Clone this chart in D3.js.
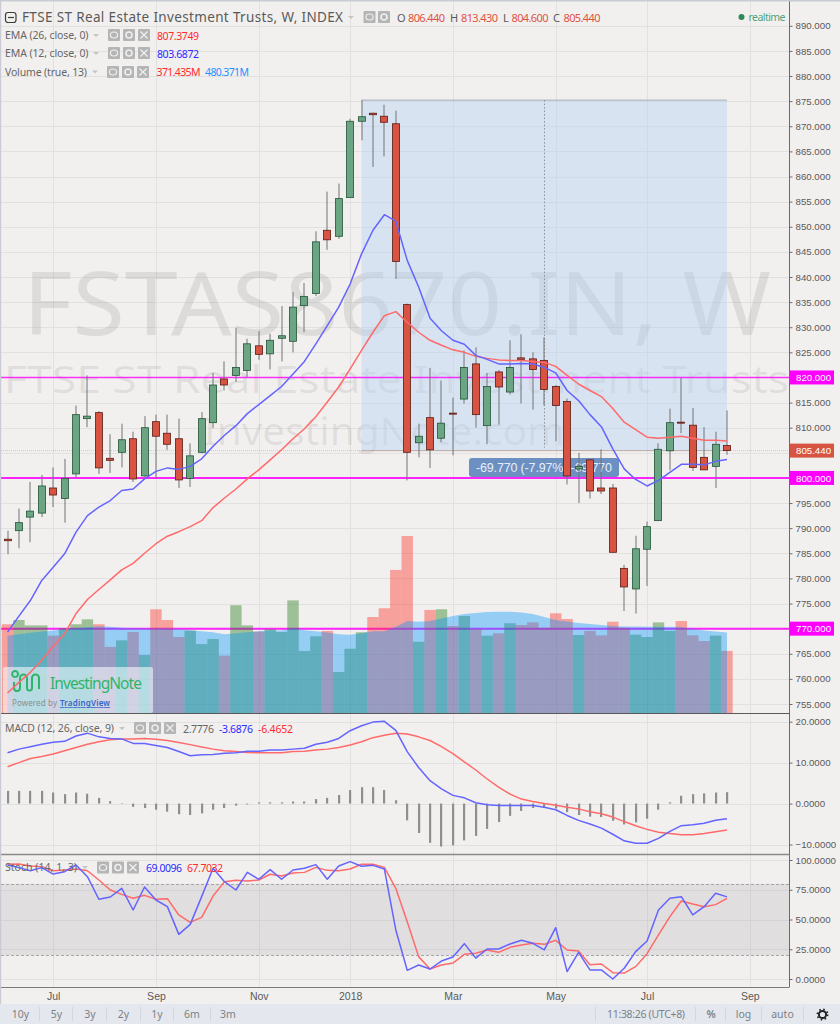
<!DOCTYPE html>
<html><head><meta charset="utf-8">
<script src="https://cdn.jsdelivr.net/npm/d3@7/dist/d3.min.js"></script>
<style>html,body{margin:0;padding:0;background:#f2f0ef;overflow:hidden}svg{display:block}text{font-family:"Noto Sans",sans-serif}</style>
</head><body><svg id="c" width="840" height="1024"></svg>
<script>
const opens=[787.8,789.5,792.2,793,798,795.9,800.8,811.8,813,803.9,805.1,807.8,800.4,811.2,808.9,807.8,799.9,805.1,811,819.7,820.4,821.4,826.3,824.7,827.8,827.2,834.3,836.7,849.3,848.1,855.8,871,872.6,872,870.5,834.5,807,812,807.9,812.9,815.7,822.7,810.4,821.1,817.1,823.9,823.7,823.4,818.2,815.2,801.8,803.6,798,798,782,777.9,785.8,791.5,805.4,811.1,810.5,804.1,802.3,806.44];
const highs=[789.5,793.9,799.2,800.6,802.1,803.8,814.4,820.4,813.3,808.7,810.8,809.2,812.3,812.6,812.6,811.8,806.9,813.1,820.9,823.2,829.9,827.7,829.2,828.7,834.2,837,838.8,849.1,857,858.6,871.5,875.2,872.7,874.3,873.1,834.7,810.8,821.9,819.4,816,825.4,826,820.9,821.5,827.4,828.6,825,828,818.5,815.8,805,803.7,805.7,798.8,782.7,788.5,791.3,806.9,813.8,819.9,813.9,810.1,809.2,813.43];
const lows=[784.8,786,787.2,792.2,794.2,791.1,800,810.1,800.8,801,802.1,799.2,800.2,800,805.6,798,798.2,804.9,809.9,817.4,819.1,820.1,823.5,821.6,823.2,825,829,836.2,845.4,847.6,855.8,867.2,861.9,864,839.6,799.5,804.1,802,807.1,804.5,814.8,810,806.7,810.6,816.6,814.8,813.6,814.4,807.3,798.7,795,795.9,796.8,785.1,773.5,773,778.5,791.4,801.5,808.9,801.4,801.6,798,804.6];
const closes=[787.5,791.1,793.4,798.4,796.6,799.9,812.6,812.3,802,803.5,807.6,799.8,810,808.3,806.7,799.6,804.4,811.8,818.5,818.5,822,826.7,824.6,827.4,828.3,834,836.1,847,847.4,855.6,871,871.9,872.3,870.8,843.1,805.1,808.3,805.6,810.9,812.7,822,812.6,818.2,818.1,822,823.6,821.6,817.6,814.4,800.4,802.3,797.4,797.4,785.2,778.3,785.9,790.3,805.7,811,810.9,802.1,801.6,806.7,805.44];
const ema26=[757.2,759.3,761.3,763.7,766.5,769,773,775.8,777.8,779.7,781.7,783,785,786.9,788.4,789.3,790.3,791.5,794.1,796,797.8,799.8,801.6,803.6,805.6,807.8,809.8,812.2,815.1,818.1,821.7,825.4,829,832.3,833.1,831,829,827.4,826.4,825.5,825,824.2,823.8,823.5,823.4,823.4,823.2,823,822.2,820.4,818.7,817.4,816.2,813.8,811.1,809.6,808.1,807.9,808.1,808.3,807.9,807.5,807.5,807.37];
const ema12=[769.3,772.5,775.6,779.6,782.2,784.9,789.2,792.5,794.2,795.5,797.5,797.8,799.8,801.3,802,801.7,802.3,803.8,806.3,808.5,810.4,812.8,814.6,816.4,818.2,820.7,823.2,826.7,830.3,834,838.6,844.6,849.3,852.4,851.1,843.3,838,831.8,829.3,827.4,826.6,824.4,823.6,822.7,822.7,822.8,822.7,822,820.9,817.4,815.4,812.6,810.2,805.8,801.8,799.7,798.4,799.5,801.1,802.7,802.7,802.6,803.3,803.69];
const volumes=[530,555,523,523,462,506,530,559,530,395,434,484,347,619,555,454,492,412,442,343,643,523,486,500,484,672,371,458,490,246,384,482,573,625,853,1055,426,615,619,519,579,500,462,476,536,525,541,509,595,561,466,490,464,545,509,468,454,541,490,549,464,430,462,371.4];
const volumeMA=[462,470,480,487,492,500,506,512,518,515,509,506,503,506,506,500,494,488,482,470,476,482,488,494,492,506,494,488,481,470,468,476,488,488,515,549,545,549,564,579,591,597,603,604,604,600,591,573,555,546,537,531,525,519,517,516,515,515,515,513,502,493,487,480.4];
const macdHist=[3.1,3.1,3.1,3.1,2.7,2.3,2.7,2.4,1.4,0.6,0.1,-0.8,-1.1,-1.5,-2,-2.6,-2.8,-2.4,-1.5,-1.1,-0.5,-0.2,0.3,0.3,0.3,0.5,0.5,1.1,1.4,2.1,3.3,4,4,3.3,0.8,-4.1,-7.2,-9.6,-10.5,-10.2,-9,-7.9,-6.2,-4.5,-3,-1.8,-1.1,-1.1,-1.2,-2.1,-2.8,-3.2,-3.3,-4.2,-5.1,-4.6,-3.7,-1.5,0.3,1.9,2.3,2.5,2.7,2.78];
const macdLine=[12.4,13.3,13.9,14.5,15,15.2,16.5,17.2,16.3,15.9,15.8,14.7,14.7,14.2,13.7,12.7,11.7,11.9,12,12.3,12.4,12.8,12.8,13.1,13.1,13.3,13.5,14.5,15,15.9,17.8,19,19.9,20.1,17.9,12.7,8.8,5.6,3.6,2,1.4,0.2,-0.3,-0.5,-0.5,-0.5,-0.5,-0.9,-1.5,-2.9,-4.1,-5,-6,-7.5,-9.1,-9.7,-9.7,-8.5,-6.8,-5.4,-5.2,-4.8,-4.1,-3.69];
const macdSignal=[9,10,11,11.5,12.1,12.9,13.7,14.5,15.1,15.6,15.8,15.8,15.9,15.7,15.4,14.9,14.4,13.8,13.3,12.9,12.7,12.5,12.4,12.4,12.4,12.7,12.8,13.1,13.3,13.7,14.3,15.1,16.1,16.7,17.2,17,16.3,15.4,13.9,12.2,10.2,8.2,6,4,2.3,1.1,0.5,0,-0.4,-0.9,-1.3,-2,-2.5,-3.3,-4.4,-5.4,-6.3,-7,-7.3,-7.6,-7.6,-7.3,-6.9,-6.47];
const stochK=[95.8,93.6,91,93.6,88.2,90.2,95.8,86,67,68.9,76.2,58,77.3,66.4,60.8,37.5,45.9,69.2,93,81.8,74.8,89.6,83.8,91.9,83.8,91.6,93,96.1,83.8,95,98.6,94.7,95.5,92.4,41.2,7.3,11.8,8.4,15.1,18.5,29.7,17.6,25.2,25.2,29.4,32.5,30,24.4,43.1,6.2,22.4,7.6,7.6,0,9,23,31.9,58,67.8,69.2,53.8,60.8,72,69.01];
const stochD=[96.4,96.6,95,94.4,91,91.6,92.4,91,83.2,74.8,71.1,67.8,70.3,67,67.5,53.8,47.6,51.8,69.7,81.8,82.9,82.4,83.2,88,86.6,89,89.6,93.8,91.3,91,92.4,96.4,96.4,93.8,76.2,48.2,18.8,8.4,11.8,13.4,20.7,21.6,24.4,22.4,26.6,28.6,30,29.1,32.5,24.4,23.5,12,12.6,5.3,5,10.4,21.3,37,52.4,65.5,63,60.8,62.5,67.7];
const priceTicks=[890,885,880,875,870,865,860,855,850,845,840,835,830,825,820,815,810,805,800,795,790,785,780,775,770,765,760,755];
const macdTicks=[20,10,0,-10];
const stochTicks=[100,75,50,25,0];
const timeTickIndex=[4,13,22,30,39,48,56,65];
const timeTickLabels=["Jul","Sep","Nov","2018","Mar","May","Jul","Sep"];
const priceLevels=[820,800,770];
const lastClose=805.44, measureHigh=875.21;
const measureStart=31, measureEnd=63, measureMid=47;
const rangeLabels=["10y","5y","3y","2y","1y","6m","3m"];

const svg=d3.select("#c");
const W=840,H=1024,axisX=789.5;
const BG="#f2f0ef",GRID="#e2e1e1",UP="#6ba583",DOWN="#d75442",UPB="#225437",DOWNB="#5b1a13",WICK="#737375";
const LB="#6464ff",LR="#ff6a6a",AXT="#5a5a5a";
const x=d3.scaleLinear().domain([0,63]).range([7.5,727]);
const yP=d3.scaleLinear().domain([890,755]).range([25.8,704]);
const yV=d3.scaleLinear().domain([0,1055]).range([713.3,536.0]);
const yM=d3.scaleLinear().domain([20,-10]).range([721.7,844.5]);
const yS=d3.scaleLinear().domain([100,0]).range([860,979]);
const step=x(1)-x(0);
const px=v=>Math.round(v)+.5;

svg.append("rect").attr("width",W).attr("height",H).attr("fill",BG);
const defs=svg.append("defs");
defs.append("clipPath").attr("id","plot").append("rect").attr("x",1).attr("y",1).attr("width",axisX-1).attr("height",712.3);
defs.append("clipPath").attr("id","plotM").append("rect").attr("x",1).attr("y",714).attr("width",axisX-1).attr("height",140);
const root=svg.append("g");

// grid
const grid=root.append("g").attr("stroke",GRID).attr("stroke-width",1);
timeTickIndex.forEach(i=>grid.append("line").attr("x1",px(x(i))).attr("x2",px(x(i))).attr("y1",1).attr("y2",987));
priceTicks.forEach(v=>grid.append("line").attr("x1",1).attr("x2",axisX).attr("y1",px(yP(v))).attr("y2",px(yP(v))));
macdTicks.forEach(v=>grid.append("line").attr("x1",1).attr("x2",axisX).attr("y1",px(yM(v))).attr("y2",px(yM(v))));
stochTicks.forEach(v=>grid.append("line").attr("x1",1).attr("x2",axisX).attr("y1",px(yS(v))).attr("y2",px(yS(v))));

// watermark
const wm=root.append("g").attr("clip-path","url(#plot)").attr("fill","#646464").style("font-family",'"Liberation Sans",sans-serif');
wm.append("text").attr("x",23).attr("y",335).attr("font-size",88).attr("fill-opacity",.15).attr("textLength",748).attr("lengthAdjust","spacingAndGlyphs").text("FSTAS8670.IN, W");
wm.append("text").attr("x",4).attr("y",393).attr("font-size",39).attr("fill-opacity",.12).attr("textLength",785).attr("lengthAdjust","spacingAndGlyphs").text("FTSE ST Real Estate Investment Trusts");
wm.append("text").attr("x",203).attr("y",445).attr("font-size",39).attr("fill-opacity",.12).attr("textLength",362).attr("lengthAdjust","spacingAndGlyphs").text("InvestingNote.com");

// measure box
const bx=x(measureStart),bw=x(measureEnd)-x(measureStart),bt=yP(measureHigh),bb=yP(lastClose);
root.append("rect").attr("x",bx).attr("y",bt).attr("width",bw).attr("height",bb-bt).attr("fill","#b5d2f5").attr("fill-opacity",.42);
root.append("line").attr("x1",bx).attr("x2",bx+bw).attr("y1",bt).attr("y2",bt).attr("stroke","#a9adb3");
root.append("line").attr("x1",bx).attr("x2",bx+bw).attr("y1",bb).attr("y2",bb).attr("stroke","#b9a9a6");
root.append("line").attr("x1",px(x(measureMid))).attr("x2",px(x(measureMid))).attr("y1",bt).attr("y2",bb-3).attr("stroke","#8a8f98").attr("stroke-dasharray","1.5,2");
root.append("rect").attr("x",469).attr("y",458).attr("width",150).attr("height",19).attr("rx",3).attr("fill","#6c90c2");
root.append("text").attr("x",476).attr("y",472).attr("font-size",12.5).attr("fill","#e8eef7").attr("textLength",136).style("font-family",'"Liberation Sans",sans-serif').text("-69.770 (-7.97%) -69.770");

// level lines & last price
root.append("line").attr("x1",1).attr("x2",axisX).attr("y1",yP(lastClose)).attr("y2",yP(lastClose)).attr("stroke","#e8a59c").attr("stroke-dasharray","1,1").attr("stroke-opacity",.7);
priceLevels.forEach((v,i)=>root.append("line").attr("x1",1).attr("x2",axisX).attr("y1",yP(v)).attr("y2",yP(v)).attr("stroke","#ff00ff").attr("stroke-opacity",i?0.85:.8).attr("stroke-width",i?2:1.4));

// volume
const vol=root.append("g").attr("clip-path","url(#plot)");
vol.selectAll("rect").data(volumes).join("rect")
  .attr("x",(d,i)=>x(i)-step/2).attr("width",step).attr("y",d=>yV(d)).attr("height",d=>yV(0)-yV(d))
  .attr("fill",(d,i)=>closes[i]>=opens[i]?"#1e7811":"#ff2a20").attr("fill-opacity",.4);
vol.append("path").datum(volumeMA).attr("fill","#0094ff").attr("fill-opacity",.38)
  .attr("d",d3.area().x((d,i)=>x(i)).y0(yV(0)).y1(d=>yV(d)));

// logo
const lg=root.append("g");
lg.append("rect").attr("x",3).attr("y",667).attr("width",150).attr("height",46).attr("rx",2).attr("fill","#fff").attr("fill-opacity",.55);
lg.append("path").attr("d","M15 677a3 3 0 1 1 .1 0M14 682v6a3 3 0 0 0 6 0v-10a3.5 3.5 0 0 1 7 0v10a2.5 2.5 0 0 0 5 0v-10a3.5 3.5 0 0 1 7 0v11")
  .attr("fill","none").attr("stroke","#2fb56a").attr("stroke-width",2);
lg.append("line").attr("x1",45).attr("x2",45).attr("y1",674).attr("y2",692).attr("stroke","#c7d3cc");
lg.append("text").attr("x",50).attr("y",689).attr("font-size",15.5).attr("fill","#2fb56a").attr("textLength",92).text("InvestingNote");
lg.append("text").attr("x",12).attr("y",706).attr("font-size",8).attr("fill","#8a8f94").attr("textLength",45).text("Powered by");
lg.append("text").attr("x",60).attr("y",706).attr("font-size",8).attr("font-weight",600).attr("fill","#3a62c8").attr("text-decoration","underline").attr("textLength",50).text("TradingView");

// candles
const cg=root.append("g").attr("clip-path","url(#plot)");
const idx=d3.range(opens.length);
cg.selectAll("line").data(idx).join("line")
  .attr("x1",i=>Math.round(x(i))).attr("x2",i=>Math.round(x(i))).attr("y1",i=>yP(highs[i])).attr("y2",i=>yP(lows[i]))
  .attr("stroke",WICK).attr("stroke-width",1);
cg.selectAll("rect").data(idx).join("rect")
  .attr("x",i=>Math.round(x(i))-3.5).attr("width",7)
  .attr("y",i=>yP(Math.max(opens[i],closes[i])))
  .attr("height",i=>Math.max(.6,Math.abs(yP(opens[i])-yP(closes[i]))))
  .attr("fill",i=>closes[i]>=opens[i]?UP:DOWN)
  .attr("stroke",i=>closes[i]>=opens[i]?UPB:DOWNB).attr("stroke-width",.8);

// line helper
function lineOn(g,data,ys,color,w){
  g.append("path").datum(data).attr("fill","none").attr("stroke",color).attr("stroke-width",w||1.5).attr("stroke-linejoin","round")
   .attr("d",d3.line().x((d,i)=>x(i)).y(d=>ys(d)));
}
const eg=root.append("g").attr("clip-path","url(#plot)");
lineOn(eg,ema26,yP,LR);
lineOn(eg,ema12,yP,LB);

// MACD
const mg=root.append("g").attr("clip-path","url(#plotM)");
mg.selectAll("rect").data(macdHist).join("rect")
  .attr("x",(d,i)=>Math.round(x(i))-1).attr("width",2.2)
  .attr("y",d=>Math.min(yM(d),yM(0))).attr("height",d=>Math.abs(yM(d)-yM(0))).attr("fill","#8f8f8f");
lineOn(mg,macdSignal,yM,LR);
lineOn(mg,macdLine,yM,LB);

// Stochastic
const sBand=root.append("g");
sBand.append("rect").attr("x",1).attr("width",axisX-1).attr("y",yS(80)).attr("height",yS(20)-yS(80)).attr("fill","#8a8a96").attr("fill-opacity",.17);
[80,20].forEach(v=>sBand.append("line").attr("x1",1).attr("x2",axisX).attr("y1",px(yS(v))).attr("y2",px(yS(v))).attr("stroke","#a6a6a6").attr("stroke-dasharray","3,2"));
lineOn(root,stochD,yS,LR);
lineOn(root,stochK,yS,LB);

// right axes
const taggedTicks=[...priceLevels,805];
function rightAxis(scale,ticks,fmt){
  const g=root.append("g").attr("transform",`translate(${axisX},0)`)
    .call(d3.axisRight(scale).tickValues(ticks).tickFormat(fmt).tickSize(3).tickPadding(3));
  g.select(".domain").remove();
  g.selectAll("line").attr("stroke","#6a6a6a");
  g.selectAll("text").attr("fill",AXT).attr("font-size",9.7).style("font-family",'"Liberation Sans",sans-serif');
  return g;
}
rightAxis(yP,priceTicks.filter(v=>!taggedTicks.includes(v)),d3.format(".3f"));
rightAxis(yM,macdTicks,d3.format(".4f"));
rightAxis(yS,stochTicks,d3.format(".4f"));

// axis tags
function tag(v,col,label){
  const y=yP(v);
  root.append("rect").attr("x",axisX+.5).attr("y",y-7).attr("width",44).attr("height",14).attr("fill",col);
  root.append("text").attr("x",axisX+6.5).attr("y",y+3.6).attr("font-size",9.7).attr("fill","#fff").style("font-family",'"Liberation Sans",sans-serif').text(label);
}
priceLevels.forEach(v=>tag(v,"#ff00ff",d3.format(".3f")(v)));
tag(lastClose,"#d75442",d3.format(".3f")(lastClose));

// frame lines
root.append("line").attr("x1",axisX).attr("x2",axisX).attr("y1",1).attr("y2",987).attr("stroke","#6a6a6a");
root.append("line").attr("x1",1).attr("x2",axisX).attr("y1",713.5).attr("y2",713.5).attr("stroke","#5a5a5a");
root.append("line").attr("x1",1).attr("x2",axisX).attr("y1",854.5).attr("y2",854.5).attr("stroke","#8a8a8a").attr("stroke-width",1.4);
root.append("line").attr("x1",1).attr("x2",axisX).attr("y1",987.5).attr("y2",987.5).attr("stroke","#7a7a7a");
root.append("rect").attr("width",W).attr("height",1.5).attr("fill","#c8ccd2");
root.append("rect").attr("width",1.2).attr("height",1004).attr("fill","#c8ccd2");

// time axis
const tg=root.append("g").attr("transform","translate(0,987.5)")
  .call(d3.axisBottom(x).tickValues(timeTickIndex).tickFormat((d,i)=>timeTickLabels[i]).tickSize(0).tickPadding(5));
tg.select(".domain").remove();
tg.selectAll("text").attr("fill",AXT).attr("font-size",10.5).style("font-family",'"Liberation Sans",sans-serif');

// bottom bar
const bar=root.append("g");
bar.append("rect").attr("y",1004).attr("width",W).attr("height",20).attr("fill","#e4e8ee");
const rangeX=[20.5,56.5,90,123.5,157,192,228];
rangeLabels.forEach((t,i)=>bar.append("text").attr("x",rangeX[i]).attr("y",1018).attr("text-anchor","middle").attr("font-size",10.5).attr("fill","#7c8085").text(t));
[39.5,72.5,106.5,140.5,173.5,210.5,595.5,695.5,725.5,761.5,803.5].forEach(v=>bar.append("line").attr("x1",v).attr("x2",v).attr("y1",1007).attr("y2",1021).attr("stroke","#d3d7dd"));
bar.append("text").attr("x",607).attr("y",1018).attr("font-size",10.5).attr("fill","#7c8085").attr("textLength",78).text("11:38:26 (UTC+8)");
bar.append("text").attr("x",711).attr("y",1018).attr("text-anchor","middle").attr("font-size",10.5).attr("font-weight",600).attr("fill","#7c8085").text("%");
bar.append("text").attr("x",743.5).attr("y",1018).attr("text-anchor","middle").attr("font-size",10.5).attr("fill","#7c8085").text("log");
bar.append("text").attr("x",782.5).attr("y",1018).attr("text-anchor","middle").attr("font-size",10.5).attr("fill","#7c8085").text("auto");
bar.append("circle").attr("cx",822.5).attr("cy",1014.5).attr("r",3.6).attr("fill","none").attr("stroke","#222").attr("stroke-width",2);
bar.append("circle").attr("cx",822.5).attr("cy",1014.5).attr("r",5.2).attr("fill","none").attr("stroke","#222").attr("stroke-width",1.6).attr("stroke-dasharray","1.6,2.5");

// legends
function icons(g,xs,y,withX){
  xs.forEach((ix,k)=>{
    g.append("rect").attr("x",ix).attr("y",y-6).attr("width",12).attr("height",12).attr("rx",1).attr("fill","#b5b5b5");
    if(k===0){g.append("ellipse").attr("cx",ix+6).attr("cy",y).attr("rx",3.6).attr("ry",3).attr("fill","none").attr("stroke","#eee").attr("stroke-width",1.2);}
    else if(k===1){g.append("circle").attr("cx",ix+6).attr("cy",y).attr("r",3).attr("fill","none").attr("stroke","#eee").attr("stroke-width",1.6);}
    else{g.append("path").attr("d",`M${ix+2.5} ${y-3.5}L${ix+9.5} ${y+3.5}M${ix+9.5} ${y-3.5}L${ix+2.5} ${y+3.5}`).attr("stroke","#eee").attr("stroke-width",1.4);}
  });
}
function caret(g,cx,y){g.append("path").attr("d",`M${cx-3} ${y-1}L${cx+3} ${y-1}L${cx} ${y+2}Z`).attr("fill","#c4c4c4");}
const lgd=root.append("g");
function txt(s,xx,y,size,col,len){const t=lgd.append("text").attr("x",xx).attr("y",y).attr("font-size",size).attr("fill",col).text(s);if(len)t.attr("textLength",len);return t;}
// title row
lgd.append("rect").attr("x",5.5).attr("y",12.5).attr("width",10.5).attr("height",10).attr("rx",2.5).attr("fill","none").attr("stroke","#3c3c3c").attr("stroke-width",1.2);
lgd.append("line").attr("x1",8).attr("x2",14).attr("y1",17.5).attr("y2",17.5).attr("stroke","#3c3c3c").attr("stroke-width",1.2);
txt("FTSE ST Real Estate Investment Trusts, W, INDEX",22,22,13.5,"#5a5a5a",321);
caret(lgd,351,17);
icons(lgd,[363.5,378],17);
txt("O",397,21.5,11,"#5a5a5a");txt("806.440",408,21.5,11,"#e0533e",37);
txt("H",450,21.5,11,"#5a5a5a");txt("813.430",461,21.5,11,"#e0533e",37);
txt("L",503,21.5,11,"#5a5a5a");txt("804.600",511.5,21.5,11,"#e0533e",37);
txt("C",553,21.5,11,"#5a5a5a");txt("805.440",563.5,21.5,11,"#e0533e",37);
lgd.append("circle").attr("cx",741.5).attr("cy",17).attr("r",3).attr("fill","#2e8b57");
txt("realtime",748.5,20.5,10.5,"#53a27e",37);
// indicator rows
txt("EMA (26, close, 0)",5,39,10.5,"#666",83.5);caret(lgd,96,35);icons(lgd,[108,123,138],35);txt("807.3749",157,39.5,10.5,"#ff2a2a",42);
txt("EMA (12, close, 0)",5,57,10.5,"#666",83.5);caret(lgd,96,53);icons(lgd,[108,123,138],53);txt("803.6872",157,57.5,10.5,"#2a2aff",42);
txt("Volume (true, 13)",5,75.5,10.5,"#666",82);caret(lgd,95,71.5);icons(lgd,[107,122,137],72);txt("371.435M",156.5,76,10.5,"#ff2a2a",44);txt("480.371M",205,76,10.5,"#1e90ff",44);
txt("MACD (12, 26, close, 9)",5,732,10.5,"#666",109);caret(lgd,122,728);icons(lgd,[134,149,164],728);txt("2.7776",183,732.5,10.5,"#666",31);txt("-3.6876",219,732.5,10.5,"#2a2aff",34);txt("-6.4652",258,732.5,10.5,"#ff2a2a",35);
txt("Stoch (14, 1, 3)",5,871,10.5,"#666",72);caret(lgd,85,867);icons(lgd,[97,112,127],867.5);txt("69.0096",146,872,10.5,"#2a2aff",36);txt("67.7032",187,872,10.5,"#ff2a2a",36);
</script></body></html>
